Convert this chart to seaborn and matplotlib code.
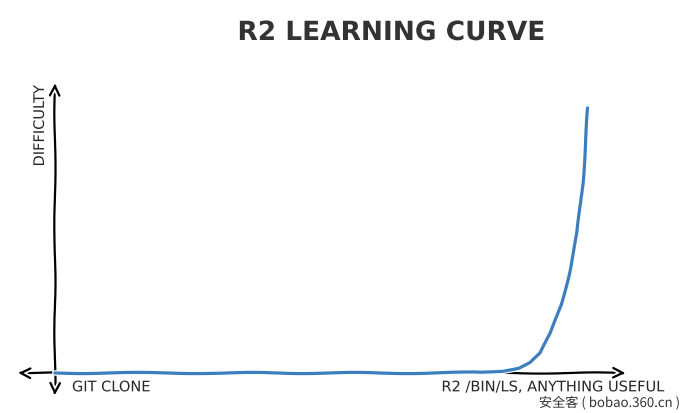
import matplotlib.pyplot as plt
import seaborn as sns
import pandas as pd

# effort (0 = git clone, 100 = anything useful) vs difficulty
effort = [0, 10, 20, 30, 40, 50, 60, 70, 80, 84, 87, 89, 91, 93, 95, 96.5, 98, 99, 100]
difficulty = [0, 0, 0, 0, 0, 0, 0, 0, 0.2, 0.8, 2, 4, 7.5, 15, 26, 38, 53, 72, 100]
start_label = "GIT CLONE"
end_label = "R2 /BIN/LS, ANYTHING USEFUL"

df = pd.DataFrame({"effort": effort, "difficulty": difficulty})

sns.set_style("white")
plt.xkcd(scale=0.6, length=120, randomness=2)
plt.rcParams["font.family"] = ["DejaVu Sans", "Noto Sans CJK SC"]

fig = plt.figure(figsize=(6.92, 4.13), dpi=100)
ax = fig.add_axes([0, 0, 1, 1])
sns.lineplot(data=df, x="effort", y="difficulty", ax=ax, color="#3d7ebf", lw=2.3)

# map data so that origin sits at px (55, 373)
ax.set_xlim(-10.3, 119.5)
ax.set_ylim(-15.1, 140.75)
for s in ax.spines.values():
    s.set_visible(False)
ax.set_xticks([])
ax.set_yticks([])
ax.set_xlabel("")
ax.set_ylabel("")

arrow = dict(arrowstyle="<->", lw=1.6, color="black", mutation_scale=18)
ax.annotate("", xy=(-7.5, 0), xytext=(107.6, 0), arrowprops=arrow, zorder=1)
ax.annotate("", xy=(0, -9.6), xytext=(0, 110.5), arrowprops=arrow, zorder=1)

ax.text(3.2, -2.4, start_label, fontsize=10.5, ha="left", va="top")
ax.text(72.5, -2.4, end_label, fontsize=10.5, ha="left", va="top")
ax.text(-2.9, 108.5, "DIFFICULTY", fontsize=10.5, rotation=90, ha="center", va="top")

fig.text(391 / 692, 1 - 33 / 413, "R2 LEARNING CURVE", fontsize=19,
         ha="center", va="center", color="#333333", fontweight="bold")

fig.text(0.983, 1 - 403 / 413, "安全客 ( bobao.360.cn )", fontsize=9.5,
         ha="right", va="center", color="#333333",
         family=["Noto Sans CJK SC", "DejaVu Sans"])

fig.savefig("out.png", dpi=100)
